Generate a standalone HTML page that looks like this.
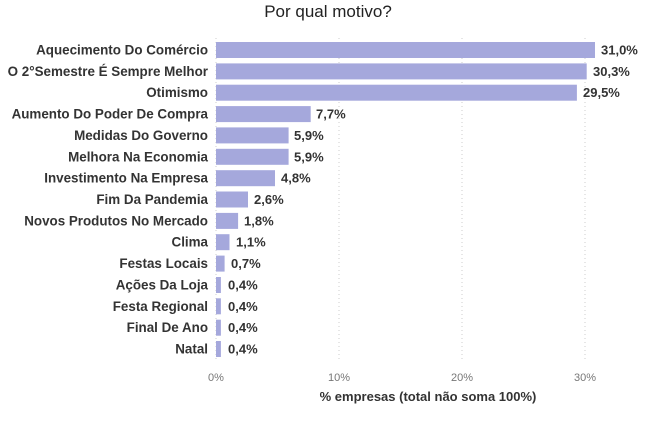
<!DOCTYPE html>
<html><head><meta charset="utf-8"><style>
html,body{margin:0;padding:0;background:#fff;}
svg{display:block;font-family:"Liberation Sans",sans-serif;}
.l{font-size:13.4px;font-weight:bold;fill:#333;text-anchor:end;}
.v{font-size:13px;font-weight:bold;fill:#333;}
.t{font-size:11px;fill:#777;text-anchor:middle;}
</style></head><body>
<svg width="657" height="425" viewBox="0 0 657 425">
<text x="328" y="17" font-size="17" fill="#222" text-anchor="middle">Por qual motivo?</text>
<g stroke="#ccc" stroke-dasharray="1,3" stroke-width="1">
<line x1="216" y1="38" x2="216" y2="360"/>
<line x1="339" y1="38" x2="339" y2="360"/>
<line x1="462" y1="38" x2="462" y2="360"/>
<line x1="585" y1="38" x2="585" y2="360"/>
</g>
<g fill="#a5a8dc">
<rect x="216" y="42" width="379" height="16"/>
<rect x="216" y="63.4" width="370.7" height="16"/>
<rect x="216" y="84.7" width="360.9" height="16"/>
<rect x="216" y="106.1" width="94.7" height="16"/>
<rect x="216" y="127.4" width="72.6" height="16"/>
<rect x="216" y="148.8" width="72.6" height="16"/>
<rect x="216" y="170.2" width="59" height="16"/>
<rect x="216" y="191.5" width="32" height="16"/>
<rect x="216" y="212.9" width="22.1" height="16"/>
<rect x="216" y="234.2" width="13.5" height="16"/>
<rect x="216" y="255.6" width="8.6" height="16"/>
<rect x="216" y="277" width="4.9" height="16"/>
<rect x="216" y="298.3" width="4.9" height="16"/>
<rect x="216" y="319.7" width="4.9" height="16"/>
<rect x="216" y="341" width="4.9" height="16"/>
</g>
<text x="208" y="54.5" class="l">Aquecimento Do Comércio</text>
<text x="208" y="75.9" class="l">O 2°Semestre É Sempre Melhor</text>
<text x="208" y="97.2" class="l">Otimismo</text>
<text x="208" y="118.6" class="l">Aumento Do Poder De Compra</text>
<text x="208" y="139.9" class="l">Medidas Do Governo</text>
<text x="208" y="161.3" class="l">Melhora Na Economia</text>
<text x="208" y="182.7" class="l">Investimento Na Empresa</text>
<text x="208" y="204" class="l">Fim Da Pandemia</text>
<text x="208" y="225.4" class="l">Novos Produtos No Mercado</text>
<text x="208" y="246.7" class="l">Clima</text>
<text x="208" y="268.1" class="l">Festas Locais</text>
<text x="208" y="289.5" class="l">Ações Da Loja</text>
<text x="208" y="310.8" class="l">Festa Regional</text>
<text x="208" y="332.2" class="l">Final De Ano</text>
<text x="208" y="353.5" class="l">Natal</text>
<text x="601" y="54.5" class="v">31,0%</text>
<text x="593" y="75.9" class="v">30,3%</text>
<text x="583" y="97.2" class="v">29,5%</text>
<text x="316" y="118.6" class="v">7,7%</text>
<text x="294" y="139.9" class="v">5,9%</text>
<text x="294" y="161.3" class="v">5,9%</text>
<text x="281" y="182.7" class="v">4,8%</text>
<text x="254" y="204" class="v">2,6%</text>
<text x="244" y="225.4" class="v">1,8%</text>
<text x="236" y="246.7" class="v">1,1%</text>
<text x="231" y="268.1" class="v">0,7%</text>
<text x="228" y="289.5" class="v">0,4%</text>
<text x="228" y="310.8" class="v">0,4%</text>
<text x="228" y="332.2" class="v">0,4%</text>
<text x="228" y="353.5" class="v">0,4%</text>
<text x="216" y="381" class="t">0%</text>
<text x="339" y="381" class="t">10%</text>
<text x="462" y="381" class="t">20%</text>
<text x="585" y="381" class="t">30%</text>
<text x="428" y="401" font-size="13" font-weight="bold" fill="#333" text-anchor="middle">% empresas (total não soma 100%)</text>
</svg>
</body></html>
